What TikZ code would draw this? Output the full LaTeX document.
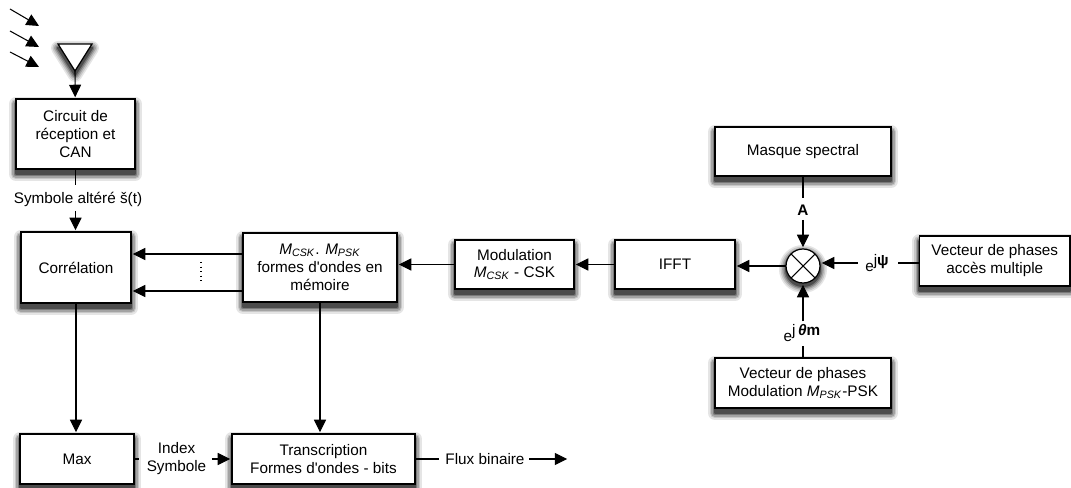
\documentclass[tikz,border=0pt]{standalone}
\usepackage{fontspec}
\setmainfont{Liberation Sans}[Ligatures=TeXOff]
\usetikzlibrary{calc, arrows.meta, backgrounds}
\tikzset{>={Triangle[length=2.5mm,width=2.4mm]}}
\tikzstyle{blockbox} = [draw,rectangle,fill=white,align=center,font=\fontsize{8.7}{10.2}\selectfont,line width=0.7pt,inner sep=0pt,outer sep=0pt]
\tikzstyle{linklabel} = [align=center,font=\fontsize{8.7}{10.2}\selectfont,inner sep=2.5pt]
\tikzstyle{link} = [line width=0.6pt,shorten >=1pt]
\tikzstyle{shadowstep} = [line join=round]
\newcommand{\Mcsk}{\textit{M}\textsubscript{\textit{CSK}}}
\newcommand{\Mpsk}{\textit{M}\textsubscript{\textit{PSK}}}

\begin{document}
\begin{tikzpicture}
		\useasboundingbox (0,0) rectangle (21.42,9.76);

		\node[blockbox,minimum width=2.38cm,minimum height=1.40cm] (recv) at (1.51,7.08) {Circuit de\\réception et\\CAN};
		\node[blockbox,minimum width=2.20cm,minimum height=1.42cm] (corr) at (1.52,4.41) {Corrélation};
		\node[blockbox,minimum width=3.08cm,minimum height=1.38cm] (mem) at (6.40,4.41) {\Mcsk. \Mpsk\\formes d'ondes en\\mémoire};
		\node[blockbox,minimum width=2.38cm,minimum height=0.98cm] (mod) at (10.29,4.47) {Modulation\\\Mcsk{} - CSK};
		\node[blockbox,minimum width=2.40cm,minimum height=0.98cm] (ifft) at (13.50,4.47) {IFFT};
		\node[blockbox,minimum width=3.52cm,minimum height=0.98cm] (mask) at (16.06,6.73) {Masque spectral};
		\node[blockbox,minimum width=3.01cm,minimum height=1.00cm] (access) at (19.895,4.54) {Vecteur de phases\\accès multiple};
		\node[blockbox,minimum width=3.52cm,minimum height=1.00cm] (phases) at (16.06,2.10) {Vecteur de phases\\Modulation \Mpsk{}-PSK};
		\node[blockbox,minimum width=2.28cm,minimum height=1.00cm] (max) at (1.54,0.58) {Max};
		\node[blockbox,minimum width=3.66cm,minimum height=1.00cm] (trans) at (6.47,0.58) {Transcription\\Formes d'ondes - bits};
		\node[blockbox,circle,minimum size=0.68cm] (mult) at (16.06,4.44) {};
		\draw[line width=0.6pt] (mult.45) -- (mult.225); \draw[line width=0.6pt] (mult.135) -- (mult.-45);

		\node[linklabel] (symb) at (1.56,5.78) {Symbole altéré š(t)};
		\node[linklabel] (amp) at (16.06,5.56) {\textbf{A}};
		\node[linklabel,inner sep=4pt] (psi) at (17.54,4.50) {e\raisebox{3.5pt}{j\textbf{ψ}}};
		\node[linklabel,inner sep=1.5pt] (theta) at (16.04,3.10) {e\raisebox{3.5pt}{j\,\textbf{\textit{θ}m}}};
		\node[linklabel,inner sep=3pt] (index) at (3.53,0.58) {Index\\Symbole};
		\node[linklabel] (flux) at (9.70,0.58) {Flux binaire};

		% antenne
		\coordinate (ant) at (1.50,8.34);
		\draw[line width=0.7pt,fill=white] (1.16,8.88) -- (1.84,8.88) -- (ant) -- cycle;
		\draw[->,link] (ant) -- (recv);
		\foreach \i/\ya/\yb in {1/9.58/9.24, 2/9.14/8.82, 3/8.72/8.42} {
			\coordinate (in\i a) at (0.20,\ya);
			\coordinate (in\i b) at (0.78,\yb);
			\draw[->,line width=0.6pt] (in\i a) -- (in\i b);
		}

		\draw[link] (recv) -- (recv |- symb.north); \draw[->,link] (recv |- symb.south) -- (recv |- corr.north);
		\draw[->,link] ([yshift=0.27cm]mem.west) -- ([yshift=0.27cm]corr.east);
		\draw[->,link] ([yshift=-0.47cm]mem.west) -- ([yshift=-0.47cm]corr.east);
		\coordinate (dotsa) at (4.02,4.52);
		\coordinate (dotsb) at (4.02,4.10);
		\draw[dotted,line width=0.6pt] (dotsa) -- (dotsb);
		\draw[->,link] (mod) -- (mem.east |- mod);
		\draw[->,link] (ifft) -- (mod);
		\draw[->,link] (mult) -- (ifft.east |- mult);
		\draw[link] (mask) -- (amp); \draw[->,link] (amp) -- (mult);
		\draw[link] (access.west |- psi) -- (psi); \draw[->,link] (psi) -- (mult.east |- psi);
		\draw[link] (phases) -- (theta.south -| phases); \draw[->,link] (theta.north -| mult) -- (mult);
		\draw[->,link] (corr) -- (corr |- max.north);
		\draw[->,link] (mem) -- (mem |- trans.north);
		\draw[link] (max) -- (index); \draw[->,link] (index) -- (trans);
		\coordinate (fluxend) at (11.38,0.58);
		\draw[link] (trans) -- (flux); \draw[->,link] (flux) -- (fluxend);

		% ombres
		\begin{pgfonlayer}{background}
			\foreach \w/\c in {8/10, 6.2/22, 4.4/36, 2.8/52, 1.2/70} {
				\foreach \n in {recv,corr,mem,mod,ifft,mask,access,phases,max,trans}
					\draw[shadowstep,draw=black!\c,fill=black!\c,line width=\w pt] ([yshift=-0.10cm]\n.south west) rectangle ([yshift=-0.10cm]\n.north east);
				\draw[shadowstep,draw=black!\c,fill=black!\c,line width=\w pt] ([yshift=-0.06cm]mult.center) circle (0.34);
				\draw[shadowstep,draw=black!\c,fill=black!\c,line width=\w pt] (1.16,8.80) -- (1.84,8.80) -- (1.50,8.26) -- cycle;
			}
		\end{pgfonlayer}
	\end{tikzpicture}
\end{document}
